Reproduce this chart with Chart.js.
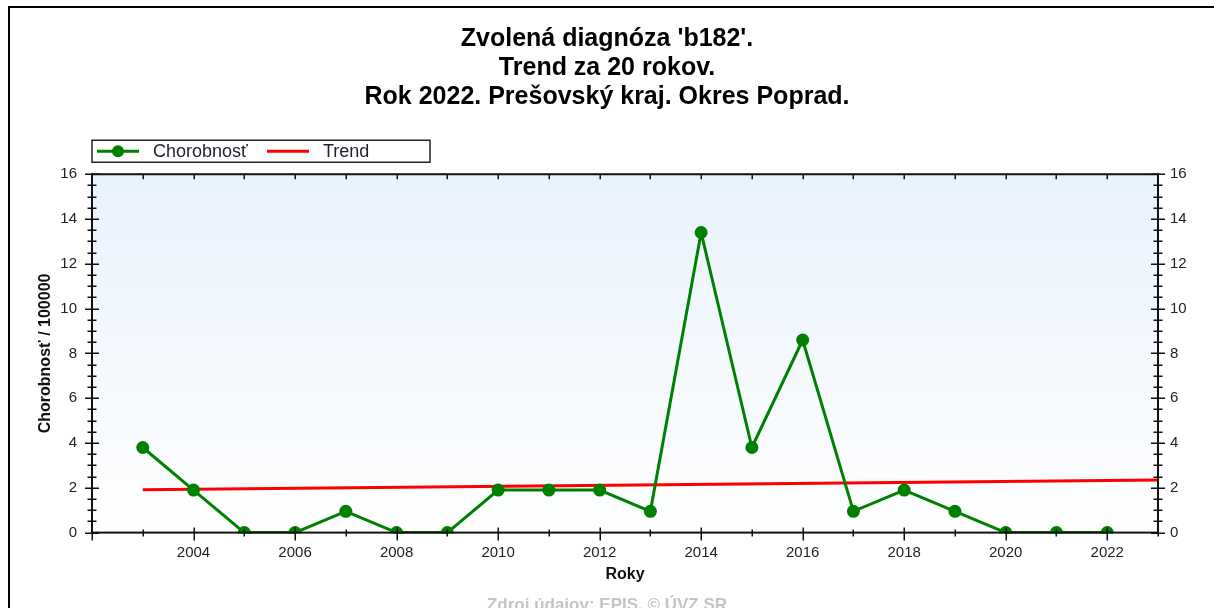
<!DOCTYPE html>
<html>
<head>
<meta charset="utf-8">
<script src="https://cdn.jsdelivr.net/npm/chart.js@4.4.0/dist/chart.umd.min.js"></script>
<style>
  body { margin: 0; overflow: hidden; background: #fff; }
  #frame { position: absolute; left: 8px; top: 6px; width: 1300px; height: 700px; border-left: 2px solid #000; border-top: 2px solid #000; }
  #chart { position: absolute; left: 0; top: 0; }
</style>
</head>
<body>
<div id="frame"></div>
<canvas id="chart" width="1214" height="620"></canvas>
<script>
const years = [2003, 2004, 2005, 2006, 2007, 2008, 2009, 2010, 2011, 2012, 2013, 2014, 2015, 2016, 2017, 2018, 2019, 2020, 2021, 2022]
const chorobnost = [3.8, 1.9, 0, 0, 0.95, 0, 0, 1.9, 1.9, 1.9, 0.95, 13.4, 3.8, 8.6, 0.95, 1.9, 0.95, 0, 0, 0]
const trendYears = [2003, 2023]
const trendValues = [1.91, 2.35]
const xTickLabels = [2004, 2006, 2008, 2010, 2012, 2014, 2016, 2018, 2020, 2022]
const yTickLabels = [0, 2, 4, 6, 8, 10, 12, 14, 16]

const FONT = '"Liberation Sans", Arial, sans-serif'
const GREEN = '#008000'
const RED = '#ff0000'

// background, plot frame, tick marks and boxed legend
const frameTicks = {
  id: 'frameTicks',
  beforeDraw(chart) {
    const {ctx, chartArea: a} = chart
    const g = ctx.createLinearGradient(0, a.top, 0, a.bottom)
    g.addColorStop(0, '#e8f2fd')
    g.addColorStop(1, '#ffffff')
    ctx.save()
    ctx.fillStyle = g
    ctx.fillRect(a.left, a.top, a.right - a.left, a.bottom - a.top)
    ctx.restore()
  },
  afterDatasetsDraw(chart) {
    const {ctx, chartArea: a, scales} = chart
    ctx.save()
    ctx.strokeStyle = '#111'
    ctx.lineWidth = 2
    ctx.strokeRect(a.left, a.top, a.right - a.left, a.bottom - a.top)

    ctx.lineWidth = 1.5
    ctx.beginPath()
    scales.y.ticks.forEach(t => {
      const py = Math.round(scales.y.getPixelForValue(t.value)) + 0.25
      const len = t.value % 2 === 0 ? 7 : 4.5
      ctx.moveTo(a.left - len, py); ctx.lineTo(a.left + len, py)
      ctx.moveTo(a.right - len, py); ctx.lineTo(a.right + len, py)
    })
    scales.x.ticks.forEach(t => {
      const px = Math.round(scales.x.getPixelForValue(t.value)) + 0.25
      const major = t.value % 2 === 0
      ctx.moveTo(px, a.bottom - (major ? 5 : 3)); ctx.lineTo(px, a.bottom + (major ? 8 : 4))
      ctx.moveTo(px, a.top); ctx.lineTo(px, a.top + 5)
    })
    ctx.stroke()

    // legend
    const lx = a.left, ly = a.top - 34
    ctx.lineWidth = 1.5
    ctx.strokeStyle = '#222'
    ctx.strokeRect(lx, ly, 338, 22)
    const my = ly + 11
    ctx.lineWidth = 3
    ctx.strokeStyle = GREEN
    ctx.beginPath(); ctx.moveTo(lx + 5, my); ctx.lineTo(lx + 47, my); ctx.stroke()
    ctx.fillStyle = GREEN
    ctx.beginPath(); ctx.arc(lx + 26, my, 6, 0, Math.PI * 2); ctx.fill()
    ctx.strokeStyle = RED
    ctx.beginPath(); ctx.moveTo(lx + 175, my); ctx.lineTo(lx + 217, my); ctx.stroke()
    ctx.fillStyle = '#1e1e30'
    ctx.font = '18px ' + FONT
    ctx.textBaseline = 'middle'
    ctx.fillText('Chorobnosť', lx + 61, my + 1)
    ctx.fillText('Trend', lx + 231, my + 1)
    ctx.restore()
  }
}

const yTickOpts = {
  stepSize: 0.5,
  autoSkip: false,
  color: '#222',
  font: {family: FONT, size: 15},
  callback: v => yTickLabels.includes(v) ? String(v) : ''
}

new Chart(document.querySelector('#chart').getContext('2d'), {
  type: 'line',
  data: {
    datasets: [
      {
        label: 'Chorobnosť',
        data: years.map((y, i) => ({x: y, y: chorobnost[i]})),
        borderColor: GREEN,
        backgroundColor: GREEN,
        borderWidth: 3,
        pointRadius: 6.5,
        pointBorderWidth: 0,
        pointBackgroundColor: GREEN,
        tension: 0,
        clip: 1
      },
      {
        label: 'Trend',
        data: trendYears.map((y, i) => ({x: y, y: trendValues[i]})),
        borderColor: RED,
        borderWidth: 3,
        pointRadius: 0,
        clip: 1
      }
    ]
  },
  options: {
    responsive: false,
    animation: false,
    devicePixelRatio: 1,
    layout: {padding: 0},
    plugins: {
      legend: {display: false},
      tooltip: {enabled: false},
      title: {
        display: true,
        text: ["Zvolená diagnóza 'b182'.", 'Trend za 20 rokov.', 'Rok 2022. Prešovský kraj. Okres Poprad.'],
        color: '#000',
        font: {family: FONT, size: 25, weight: 'bold', lineHeight: 1.15},
        padding: {top: 25, bottom: 63}
      },
      subtitle: {
        display: true,
        position: 'bottom',
        text: 'Zdroj údajov: EPIS, © ÚVZ SR',
        color: '#c4c4c4',
        font: {family: FONT, size: 17, weight: 'bold', lineHeight: 1.2},
        padding: {top: 0, bottom: 4}
      }
    },
    scales: {
      x: {
        type: 'linear',
        min: 2002,
        max: 2023,
        grid: {display: false, drawTicks: false},
        border: {display: false},
        ticks: {
          stepSize: 1,
          autoSkip: false,
          maxRotation: 0,
          padding: 11,
          color: '#222',
          font: {family: FONT, size: 15},
          callback: v => xTickLabels.includes(v) ? String(v) : ''
        },
        title: {
          display: true,
          text: 'Roky',
          color: '#111',
          font: {family: FONT, size: 16, weight: 'bold', lineHeight: 1.2},
          padding: {top: 0, bottom: 11}
        },
        afterFit: s => { s.height = 63 }
      },
      y: {
        position: 'left',
        min: 0,
        max: 16,
        grid: {display: false, drawTicks: false},
        border: {display: false},
        ticks: Object.assign({padding: 15}, yTickOpts),
        title: {
          display: true,
          text: 'Chorobnosť / 100000',
          color: '#111',
          font: {family: FONT, size: 16, weight: 'bold', lineHeight: 1.2},
          padding: {top: 36, bottom: 0}
        },
        afterFit: s => { s.width = 92 }
      },
      y2: {
        position: 'right',
        min: 0,
        max: 16,
        grid: {display: false, drawTicks: false},
        border: {display: false},
        ticks: Object.assign({padding: 12}, yTickOpts),
        afterFit: s => { s.width = 56 }
      }
    }
  },
  plugins: [frameTicks]
})
</script>
</body>
</html>
